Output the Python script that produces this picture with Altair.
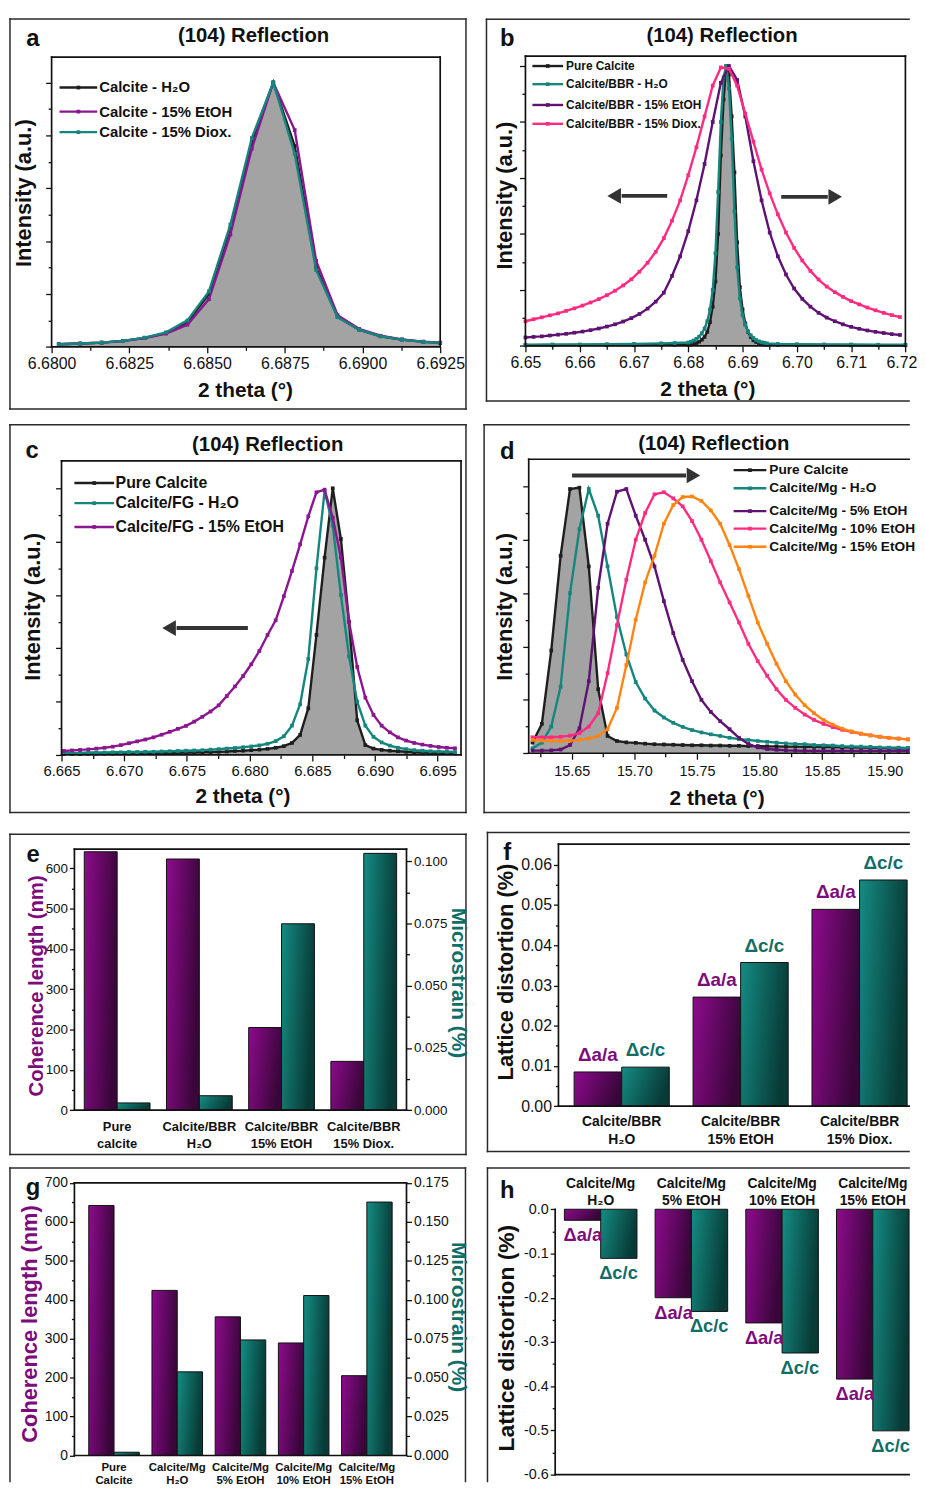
import altair as alt
import numpy as np
import pandas as pd

FONT = "Liberation Sans"
INK = "#111111"
GRAY = "#a3a3a3"
C_BLACK = "#1e1e1e"
C_TEAL = "#15867e"
C_PURPLE = "#8a1690"
C_DPURPLE = "#5e1272"
C_PINK = "#ff2b80"
C_ORANGE = "#ff8412"
T_PURPLE = "#7c0b7c"
T_TEAL = "#0f6e68"
ARROW = "#333333"

# ---------------- panel a ----------------
A_X = [6.68023, 6.68092, 6.68161, 6.68230, 6.68299, 6.68368, 6.68437, 6.68506, 6.68575, 6.68644,
       6.68713, 6.68782, 6.68851, 6.68920, 6.68989, 6.69058, 6.69127, 6.69196, 6.69265]
A_H2O = [0.010, 0.0125, 0.016, 0.0225, 0.034, 0.052, 0.094, 0.200, 0.450, 0.775,
         1.000, 0.760, 0.300, 0.113, 0.065, 0.040, 0.0275, 0.019, 0.015]
A_ETOH = [0.010, 0.0125, 0.016, 0.022, 0.033, 0.050, 0.084, 0.180, 0.425, 0.750,
          1.000, 0.820, 0.325, 0.120, 0.068, 0.042, 0.028, 0.020, 0.016]
A_DIOX = [0.010, 0.0125, 0.016, 0.0225, 0.035, 0.055, 0.100, 0.210, 0.4625, 0.790,
          1.000, 0.730, 0.290, 0.112, 0.065, 0.040, 0.0275, 0.019, 0.015]

# ---------------- panel b ----------------
B_X = np.round(6.6500 + 0.0015 * np.arange(47), 4).tolist()
B_ETOH = [0.030, 0.032, 0.034, 0.037, 0.040, 0.043, 0.047, 0.051, 0.056, 0.062, 0.069, 0.077,
          0.087, 0.099, 0.114, 0.133, 0.158, 0.19, 0.25, 0.32, 0.41, 0.52, 0.65, 0.80, 0.94,
          1.0, 0.95, 0.82, 0.66, 0.52, 0.405, 0.32, 0.255, 0.205, 0.168, 0.140, 0.118, 0.101,
          0.088, 0.077, 0.068, 0.061, 0.055, 0.050, 0.046, 0.042, 0.039]
B_DIOX = [0.088, 0.095, 0.102, 0.109, 0.116, 0.125, 0.134, 0.144, 0.155, 0.167,
          0.181, 0.197, 0.216, 0.238, 0.265, 0.297, 0.336, 0.385, 0.447, 0.52,
          0.61, 0.71, 0.82, 0.93, 0.995, 0.99, 0.93, 0.83, 0.73, 0.63,
          0.545, 0.47, 0.405, 0.35, 0.305, 0.268, 0.237, 0.212, 0.192, 0.175,
          0.160, 0.148, 0.137, 0.127, 0.118, 0.110, 0.103]
B_NX = [6.650, 6.655, 6.660, 6.665, 6.670, 6.675, 6.6775,
        6.6800, 6.6805, 6.6810, 6.6815, 6.6820, 6.6825, 6.6830, 6.6835, 6.6840, 6.6845,
        6.6850, 6.6855, 6.6860, 6.6865, 6.6870, 6.6875, 6.6880, 6.6885, 6.6890, 6.6895,
        6.6900, 6.6905, 6.6910, 6.6915, 6.6920, 6.6925, 6.6930, 6.6935, 6.6940, 6.6945,
        6.6965, 6.700, 6.705, 6.710, 6.715, 6.720]
B_PURE = [0.002, 0.002, 0.003, 0.003, 0.003, 0.004, 0.004,
          0.004, 0.005, 0.007, 0.010, 0.015, 0.022, 0.032, 0.050, 0.085, 0.14,
          0.23, 0.40, 0.68, 0.88, 1.0, 0.97, 0.82, 0.62, 0.37, 0.21,
          0.13, 0.08, 0.05, 0.032, 0.02, 0.014, 0.010, 0.007, 0.005, 0.004,
          0.004, 0.003, 0.003, 0.002, 0.002, 0.002]
B_H2O = [0.004, 0.005, 0.005, 0.006, 0.007, 0.009, 0.010,
         0.012, 0.015, 0.019, 0.025, 0.033, 0.045, 0.062, 0.088, 0.13, 0.20,
         0.33, 0.55, 0.80, 0.96, 1.0, 0.92, 0.74, 0.48, 0.28, 0.17,
         0.11, 0.075, 0.052, 0.038, 0.028, 0.021, 0.016, 0.013, 0.011, 0.009,
         0.007, 0.006, 0.005, 0.005, 0.004, 0.004]

# ---------------- panel c ----------------
C_X = np.round(6.66518 + 0.00065 * np.arange(49), 5).tolist()
C_PURE = [0.004, 0.004, 0.004, 0.005, 0.005, 0.005, 0.005, 0.006, 0.006, 0.006, 0.007,
          0.007, 0.007, 0.008, 0.008, 0.009, 0.009, 0.010, 0.011, 0.012, 0.013,
          0.015, 0.016, 0.018, 0.020, 0.023, 0.027, 0.033, 0.045, 0.075, 0.175,
          0.45, 0.74, 1.0, 0.81, 0.50, 0.13, 0.037, 0.024, 0.019, 0.016,
          0.014, 0.012, 0.010, 0.009, 0.008, 0.007, 0.007, 0.006]
C_H2O = [0.008, 0.008, 0.008, 0.009, 0.009, 0.009, 0.010, 0.010, 0.011, 0.011, 0.012,
         0.012, 0.013, 0.014, 0.015, 0.016, 0.017, 0.018, 0.020, 0.022, 0.024,
         0.026, 0.029, 0.032, 0.036, 0.042, 0.052, 0.070, 0.11, 0.19, 0.36,
         0.70, 0.99, 0.86, 0.60, 0.37, 0.20, 0.11, 0.068, 0.047, 0.035,
         0.027, 0.022, 0.018, 0.016, 0.014, 0.013, 0.012, 0.011]
C_ETOH = [0.015, 0.017, 0.019, 0.021, 0.024, 0.027, 0.031, 0.037, 0.044, 0.051,
          0.058, 0.066, 0.076, 0.087, 0.098, 0.109, 0.125, 0.143, 0.163, 0.186,
          0.221, 0.257, 0.296, 0.34, 0.39, 0.45, 0.505, 0.595, 0.69, 0.79,
          0.895, 0.985, 0.995, 0.89, 0.74, 0.50, 0.33, 0.215, 0.15, 0.11,
          0.085, 0.066, 0.054, 0.045, 0.039, 0.034, 0.030, 0.027, 0.025]

# ---------------- panel d ----------------
D_X = np.round(15.6186 + 0.0075 * np.arange(41), 4).tolist()
D_PURE = [0.040, 0.11, 0.385, 0.74, 0.99, 0.995, 0.70, 0.24, 0.065, 0.046, 0.041, 0.039, 0.036,
          0.034, 0.033, 0.032, 0.031, 0.030, 0.030, 0.029, 0.029, 0.028, 0.028, 0.027, 0.027, 0.026, 0.026,
          0.025, 0.025, 0.024, 0.024, 0.023, 0.023, 0.022, 0.022, 0.021, 0.021, 0.020, 0.020, 0.019, 0.019]
D_H2O = [0.019, 0.040, 0.10, 0.25, 0.60, 0.84, 0.99, 0.89, 0.70, 0.51,
         0.37, 0.267, 0.205, 0.16, 0.134, 0.114, 0.099, 0.087, 0.078, 0.071,
         0.065, 0.058, 0.053, 0.050, 0.046, 0.043, 0.040, 0.037, 0.035, 0.034,
         0.031, 0.030, 0.029, 0.027, 0.026, 0.025, 0.024, 0.022, 0.021, 0.021, 0.020]
D_5 = [0.010, 0.010, 0.011, 0.014, 0.031, 0.093, 0.27, 0.62, 0.86, 0.98,
       0.99, 0.89, 0.80, 0.70, 0.57, 0.45, 0.35, 0.27, 0.20, 0.155,
       0.12, 0.09, 0.058, 0.035, 0.022, 0.016, 0.013, 0.011, 0.010,
       0.009, 0.009, 0.009, 0.009, 0.009, 0.009, 0.009, 0.009, 0.009, 0.009, 0.009, 0.009]
D_10 = [0.060, 0.060, 0.060, 0.062, 0.066, 0.075, 0.10, 0.15, 0.30, 0.48,
        0.65, 0.80, 0.90, 0.97, 0.978, 0.955, 0.925, 0.87, 0.80, 0.72,
        0.64, 0.565, 0.49, 0.41, 0.345, 0.29, 0.24, 0.20, 0.17, 0.145,
        0.125, 0.11, 0.098, 0.088, 0.08, 0.073, 0.067, 0.062, 0.058, 0.055, 0.052]
D_15 = [0.050, 0.048, 0.047, 0.046, 0.047, 0.050, 0.055, 0.065, 0.09, 0.17,
        0.33, 0.50, 0.64, 0.74, 0.86, 0.93, 0.96, 0.962, 0.945, 0.91,
        0.86, 0.78, 0.69, 0.59, 0.49, 0.41, 0.335, 0.27, 0.22, 0.18,
        0.15, 0.125, 0.107, 0.092, 0.082, 0.074, 0.067, 0.062, 0.058, 0.055, 0.052]

# ---------------- bar panels ----------------
E_CATS = ["Pure|calcite", "Calcite/BBR|H₂O", "Calcite/BBR|15% EtOH", "Calcite/BBR|15% Diox."]
E_COH = [641, 623, 205, 121]
E_STRAIN = [0.0029, 0.0058, 0.0749, 0.1032]

F_CATS = ["Calcite/BBR|H₂O", "Calcite/BBR|15% EtOH", "Calcite/BBR|15% Diox."]
F_DA = [0.0085, 0.0271, 0.0489]
F_DC = [0.0097, 0.0357, 0.0562]

G_CATS = ["Pure|Calcite", "Calcite/Mg|H₂O", "Calcite/Mg|5% EtOH", "Calcite/Mg|10% EtOH", "Calcite/Mg|15% EtOH"]
G_COH = [642, 424, 356, 289, 205]
G_STRAIN = [0.0021, 0.0537, 0.0742, 0.1027, 0.1627]

H_CATS = ["Calcite/Mg|H₂O", "Calcite/Mg|5% EtOH", "Calcite/Mg|10% EtOH", "Calcite/Mg|15% EtOH"]
H_DA = [-0.025, -0.200, -0.257, -0.384]
H_DC = [-0.111, -0.231, -0.325, -0.501]

INT_TICKS = np.round(np.arange(0, 1.05, 0.1), 1).tolist()

# ---------------- layout ----------------
COL_X = [8, 482]
COL_W = [474, 435]
ROW_Y = [8, 414, 826, 1164]
ROW_H = [406, 412, 338, 324]

PURPLE_GRAD = alt.Gradient(gradient="linear",
                           stops=[alt.GradientStop(color="#8e0b8e", offset=0),
                                  alt.GradientStop(color="#3a063a", offset=1)],
                           x1=0, x2=1, y1=0, y2=0.3)
TEAL_GRAD = alt.Gradient(gradient="linear",
                         stops=[alt.GradientStop(color="#148d84", offset=0),
                                alt.GradientStop(color="#083a36", offset=1)],
                         x1=0, x2=1, y1=0, y2=0.3)


def px_text(ox, oy, items, size, weight="bold", color=INK, angle=0, align="center", baseline="middle"):
    df = pd.DataFrame({"x": [it[0] - ox for it in items],
                       "y": [it[1] - oy for it in items],
                       "t": [it[2] for it in items]})
    return alt.Chart(df).mark_text(font=FONT, fontSize=size, fontWeight=weight, color=color,
                                   angle=angle, align=align, baseline=baseline).encode(
        x=alt.X("x:Q", scale=None, axis=None),
        y=alt.Y("y:Q", scale=None, axis=None),
        text="t:N")


def px_rules(ox, oy, segs, color=INK, width=1.6, cap="square"):
    df = pd.DataFrame({"x": [s[0] - ox for s in segs], "y": [s[1] - oy for s in segs],
                       "x2": [s[2] - ox for s in segs], "y2": [s[3] - oy for s in segs]})
    return alt.Chart(df).mark_rule(color=color, strokeWidth=width, strokeCap=cap).encode(
        x=alt.X("x:Q", scale=None, axis=None), y=alt.Y("y:Q", scale=None, axis=None),
        x2="x2:Q", y2="y2:Q")


def px_marks(ox, oy, pts, color, shape, size):
    df = pd.DataFrame({"x": [p[0] - ox for p in pts], "y": [p[1] - oy for p in pts]})
    return alt.Chart(df).mark_point(shape=shape, size=size, filled=True, color=color,
                                    opacity=1, strokeWidth=0).encode(
        x=alt.X("x:Q", scale=None, axis=None), y=alt.Y("y:Q", scale=None, axis=None))


def box(x0, y0, x1, y1):
    return [(x0, y0, x1, y0), (x1, y0, x1, y1), (x0, y1, x1, y1), (x0, y0, x0, y1)]


def legend_layers(ox, oy, x0, x1, tx, rows, size):
    out = []
    for (y, colr, lab) in rows:
        out.append(px_rules(ox, oy, [(x0, y, x1, y)], colr, 2.4, "butt"))
        out.append(px_marks(ox, oy, [((x0 + x1) / 2, y)], colr, "square", 14))
    out.append(px_text(ox, oy, [(tx, r[0], r[2]) for r in rows], size, align="left"))
    return out


def arrow_layers(ox, oy, x_tail, x_head, y, direction):
    L = 15
    base = x_head + L if direction == "left" else x_head - L
    return [px_rules(ox, oy, [(x_tail, y, base, y)], ARROW, 4, "butt"),
            px_marks(ox, oy, [((x_head + base) / 2, y)], ARROW, "triangle-" + direction, 250)]


def cond(test, major, minor):
    return {"condition": {"test": test, "value": major}, "value": minor}


def base_axis(**kw):
    d = dict(title=None, grid=False, domain=False, tickColor=INK, tickWidth=1.3,
             labelFont=FONT, labelColor=INK, labelOverlap=False, labelBound=False)
    d.update(kw)
    return alt.Axis(**d)


def series_layers(xs, ys, xax, yax, x, y, colr, msize=14, sw=2.4):
    df = pd.DataFrame({"x": x, "y": y})
    enc = dict(x=alt.X("x:Q", scale=xs, axis=xax), y=alt.Y("y:Q", scale=ys, axis=yax))
    return [alt.Chart(df).mark_line(color=colr, strokeWidth=sw).encode(**enc),
            alt.Chart(df).mark_point(shape="square", filled=True, size=msize, color=colr,
                                     opacity=1, strokeWidth=0).encode(**enc)]


def line_panel(col, row, plot, xdom, ydom, xvals, xtest, xfmt, xlab_size, series, area,
               frame, extras, xaxis_extra=None):
    ox, oy = COL_X[col], ROW_Y[row]
    W, H = COL_W[col], ROW_H[row]
    X0, X1, Y0, Y1 = plot
    xs = alt.Scale(domain=xdom, range=[X0 - ox, X1 - ox], nice=False, zero=False, clamp=True)
    ys = alt.Scale(domain=ydom, range=[Y1 - oy, Y0 - oy], nice=False, zero=False)
    kw = dict(orient="bottom", offset=(Y1 - oy) - H, values=xvals, tickSize=cond(xtest, 6, 3.5),
              labelExpr=f"({xtest}) ? format(datum.value, '{xfmt}') : ''",
              labelFontSize=xlab_size, labelPadding=3, labelFlush=False)
    if xaxis_extra:
        kw.update(xaxis_extra)
    xax = base_axis(**kw)
    yax = base_axis(orient="left", offset=-(X0 - ox), values=INT_TICKS,
                    tickSize=cond("round(datum.value*10) % 2 == 0", 6, 3.5), labels=False)
    layers = []
    if area is not None:
        dfa = pd.DataFrame({"x": area[0], "y": area[1]})
        layers.append(alt.Chart(dfa).mark_area(color=GRAY, opacity=1).encode(
            x=alt.X("x:Q", scale=xs, axis=xax), y=alt.Y("y:Q", scale=ys, axis=yax)))
    for sx, sy, colr in series:
        layers += series_layers(xs, ys, xax, yax, sx, sy, colr)
    layers.append(px_rules(ox, oy, frame, INK, 1.7))
    layers += extras(ox, oy)
    return alt.layer(*layers).properties(width=W, height=H)


def common_titles(ox, oy, title_xy, letter_xy, letter, ytitle_xy, xtitle_xy):
    return [
        px_text(ox, oy, [(title_xy[0], title_xy[1], "(104) Reflection")], 20.5),
        px_text(ox, oy, [(letter_xy[0], letter_xy[1], letter)], 24, baseline="alphabetic"),
        px_text(ox, oy, [(ytitle_xy[0], ytitle_xy[1], "Intensity (a.u.)")], 22, angle=270),
        px_text(ox, oy, [(xtitle_xy[0], xtitle_xy[1], "2 theta (°)")], 21),
    ]


# ---------------- panel a ----------------
def extras_a(ox, oy):
    out = [px_rules(ox, oy, box(10, 12.5, 470, 406), "#2a2a2a", 1.5)]
    out += common_titles(ox, oy, (255.8, 30), (33, 39.3), "a", (24, 188.3), (247.5, 388.3))
    out += legend_layers(ox, oy, 60, 98, 100,
                         [(81.7, C_BLACK, "Calcite - H₂O"),
                          (106, C_PURPLE, "Calcite - 15% EtOH"),
                          (126.7, C_TEAL, "Calcite - 15% Diox.")], 15)
    return out


pa = line_panel(0, 0, (52, 444, 51, 343.3), [6.68, 6.6925], [0, 1.096],
                np.round(6.68 + 0.00125 * np.arange(11), 5).tolist(),
                "round(datum.value*800) % 2 == 0", ".4f", 16,
                [(A_X, A_H2O, C_BLACK), (A_X, A_ETOH, C_PURPLE), (A_X, A_DIOX, C_TEAL)],
                (A_X, A_H2O), box(52, 51, 444, 343.3), extras_a)


# ---------------- panel b ----------------
def extras_b(ox, oy):
    out = [px_rules(ox, oy, [(490.7, 12.7, 490.7, 398), (490.7, 12.7, 917, 12.7),
                             (490.7, 398, 917, 398)], "#2a2a2a", 1.5)]
    out += common_titles(ox, oy, (728.3, 30), (511.7, 39.3), "b", (509, 190.7), (714, 386.7))
    out += legend_layers(ox, oy, 537, 568, 571,
                         [(60, C_BLACK, "Pure Calcite"),
                          (78.3, C_TEAL, "Calcite/BBR - H₂O"),
                          (99.3, C_DPURPLE, "Calcite/BBR - 15% EtOH"),
                          (118.3, C_PINK, "Calcite/BBR - 15% Diox.")], 12)
    out += arrow_layers(ox, oy, 673, 612, 191, "left")
    out += arrow_layers(ox, oy, 788, 850, 192, "right")
    return out


pb = line_panel(1, 0, (530, 913.3, 50, 342.3), [6.65, 6.72], [0, 1.0354],
                np.round(6.65 + 0.005 * np.arange(15), 3).tolist(),
                "round(datum.value*200) % 2 == 0", ".2f", 16,
                [(B_NX, B_PURE, C_BLACK), (B_NX, B_H2O, C_TEAL),
                 (B_X, B_ETOH, C_DPURPLE), (B_X, B_DIOX, C_PINK)],
                (B_NX, B_PURE), box(530, 50, 913.3, 342.3), extras_b,
                xaxis_extra=dict(labelOffset=cond("datum.value > 6.7199", -4, 0)))


# ---------------- panel c ----------------
def extras_c(ox, oy):
    out = [px_rules(ox, oy, box(10, 422, 470, 813), "#2a2a2a", 1.5)]
    out += common_titles(ox, oy, (270, 442.3), (32.3, 455), "c", (33.3, 605.7), (245, 797.3))
    out += legend_layers(ox, oy, 75, 115, 116.5,
                         [(480.7, C_BLACK, "Pure Calcite"),
                          (501, C_TEAL, "Calcite/FG - H₂O"),
                          (525, C_PURPLE, "Calcite/FG - 15% EtOH")], 16)
    out += arrow_layers(ox, oy, 250, 163, 627, "left")
    return out


pc = line_panel(0, 1, (62, 465, 458.3, 755), [6.665, 6.69686], [0, 1.103],
                np.round(6.665 + 0.0025 * np.arange(13), 4).tolist(),
                "round(datum.value*400) % 2 == 0", ".3f", 15,
                [(C_X, C_PURE, C_BLACK), (C_X, C_H2O, C_TEAL), (C_X, C_ETOH, C_PURPLE)],
                (C_X, C_PURE), box(62, 458.3, 465, 755), extras_c)


# ---------------- panel d ----------------
def extras_d(ox, oy):
    out = [px_rules(ox, oy, [(488.3, 422, 488.3, 813), (488.3, 422, 917, 422),
                             (488.3, 813, 917, 813)], "#2a2a2a", 1.5)]
    out += common_titles(ox, oy, (720, 441.7), (511.7, 456.7), "d", (509, 605.7), (723.3, 799))
    out += legend_layers(ox, oy, 740, 773, 776,
                         [(467.7, C_BLACK, "Pure Calcite"),
                          (486, C_TEAL, "Calcite/Mg - H₂O"),
                          (509, C_DPURPLE, "Calcite/Mg - 5% EtOH"),
                          (526.7, C_PINK, "Calcite/Mg - 10% EtOH"),
                          (545, C_ORANGE, "Calcite/Mg - 15% EtOH")], 13.8)
    out += arrow_layers(ox, oy, 577, 707, 473, "right")
    return out


pd_ = line_panel(1, 1, (533.3, 917, 456.7, 753.3), [15.6156, 15.9195], [0, 1.1014],
                 np.round(15.625 + 0.025 * np.arange(12), 3).tolist(),
                 "round(datum.value*40) % 2 == 0", ".2f", 14.5,
                 [(D_X, D_PURE, C_BLACK), (D_X, D_H2O, C_TEAL), (D_X, D_5, C_DPURPLE),
                  (D_X, D_10, C_PINK), (D_X, D_15, C_ORANGE)],
                 (D_X, D_PURE),
                 [(533.3, 456.7, 917, 456.7), (533.3, 456.7, 533.3, 753.3), (533.3, 753.3, 917, 753.3)],
                 extras_d, xaxis_extra=dict(labelPadding=5))


# ---------------- bar helpers ----------------
def cat_axis(orient, offset, size, lh, pad):
    return alt.Axis(orient=orient, offset=offset, ticks=False, domain=False, title=None, grid=False,
                    labelExpr="split(datum.label, '|')", labelAngle=0, labelFont=FONT,
                    labelFontSize=size, labelFontWeight="bold", labelLineHeight=lh,
                    labelPadding=pad, labelColor=INK, labelOverlap=False, labelBound=False)


def band_width(r0, r1, n, pi, po):
    step = (r1 - r0) / (n - pi + 2 * po)
    return step * (1 - pi)


def offs_scale(bw):
    return alt.Scale(domain=["a", "c"], range=[0, bw], paddingInner=0, paddingOuter=0)


def bars(cats, vals, key, grad, xs, offs, ys, xax, yax):
    df = pd.DataFrame({"cat": cats, "v": vals, "s": [key] * len(cats)})
    return alt.Chart(df).mark_bar(color=grad, stroke=INK, strokeWidth=1).encode(
        x=alt.X("cat:N", scale=xs, sort=cats, axis=xax),
        xOffset=alt.XOffset("s:N", scale=offs),
        y=alt.Y("v:Q", scale=ys, axis=yax))


def delta_text(cats, vals, xs, ys, xax, yax, label, colr, dx, dy, size):
    df = pd.DataFrame({"cat": cats, "v": vals})
    return alt.Chart(df).mark_text(font=FONT, fontSize=size, fontWeight="bold", color=colr,
                                   dx=dx, dy=dy, baseline="middle").encode(
        x=alt.X("cat:N", scale=xs, sort=cats, axis=xax),
        y=alt.Y("v:Q", scale=ys, axis=yax),
        text=alt.value(label))


# ---------------- panel e ----------------
ox, oy, W, H = COL_X[0], ROW_Y[2], COL_W[0], ROW_H[2]
X0, X1, Y0, Y1 = 75, 410, 850, 1113.3
ex = alt.Scale(domain=E_CATS, range=[X0 - ox, X1 - ox], paddingInner=0.2, paddingOuter=0.12)
eoff = offs_scale(band_width(X0, X1, 4, 0.2, 0.12))
ey1 = alt.Scale(domain=[0, 647.5], range=[Y1 - oy, Y0 - oy], nice=False, zero=True)
ey2 = alt.Scale(domain=[0, 0.1049], range=[Y1 - oy, Y0 - oy], nice=False, zero=True)
e_cat = cat_axis("bottom", (Y1 - oy) - H, 13, 17, 11)
e_left = base_axis(orient="left", offset=-(X0 - ox), values=list(range(0, 601, 50)),
                   tickSize=cond("round(datum.value/50) % 2 == 0", 5, 3),
                   labelExpr="round(datum.value/50) % 2 == 0 ? format(datum.value, 'd') : ''",
                   labelFontSize=13.5, labelPadding=2)
e_right = base_axis(orient="right", offset=(X1 - ox) - W,
                    values=np.round(np.arange(0, 0.1001, 0.0125), 4).tolist(),
                    tickSize=cond("round(datum.value*80) % 2 == 0", 5, 3),
                    labelExpr="round(datum.value*80) % 2 == 0 ? format(datum.value, '.3f') : ''",
                    labelFontSize=13.5, labelPadding=2)
pe = alt.layer(
    bars(E_CATS, E_COH, "a", PURPLE_GRAD, ex, eoff, ey1, e_cat, e_left),
    bars(E_CATS, E_STRAIN, "c", TEAL_GRAD, ex, eoff, ey2, e_cat, e_right),
    px_rules(ox, oy, box(X0, Y0, X1, Y1), INK, 1.7),
    px_rules(ox, oy, box(10, 835, 470, 1158), "#2a2a2a", 1.5),
    px_text(ox, oy, [(33.3, 863.3, "e")], 24, baseline="alphabetic"),
    px_text(ox, oy, [(37.5, 988, "Coherence length (nm)")], 20.5, color=T_PURPLE, angle=270),
    px_text(ox, oy, [(461.7, 985, "Microstrain (%)")], 21, color=T_TEAL, angle=90),
).resolve_scale(y="independent").properties(width=W, height=H)

# ---------------- panel f ----------------
ox, oy, W, H = COL_X[1], ROW_Y[2], COL_W[1], ROW_H[2]
X0, X1, Y0, Y1 = 563.3, 917, 845, 1109.3
fx = alt.Scale(domain=F_CATS, range=[X0 - ox, X1 - ox], paddingInner=0.2, paddingOuter=0.074, align=0.89)
foff = offs_scale(band_width(X0, X1, 3, 0.2, 0.074))
fy = alt.Scale(domain=[0, 0.0651], range=[Y1 - oy, Y0 - oy], nice=False, zero=True)
f_cat = cat_axis("bottom", (Y1 - oy) - H, 14, 18, 9)
f_left = base_axis(orient="left", offset=-(X0 - ox),
                   values=np.round(np.arange(0, 0.0601, 0.005), 3).tolist(),
                   tickSize=cond("round(datum.value*200) % 2 == 0", 5, 3),
                   labelExpr="round(datum.value*200) % 2 == 0 ? format(datum.value, '.2f') : ''",
                   labelFontSize=16, labelPadding=2)
pf = alt.layer(
    bars(F_CATS, F_DA, "a", PURPLE_GRAD, fx, foff, fy, f_cat, f_left),
    bars(F_CATS, F_DC, "c", TEAL_GRAD, fx, foff, fy, f_cat, f_left),
    delta_text(F_CATS, F_DA, fx, fy, f_cat, f_left, "Δa/a", T_PURPLE, -24, -17, 19),
    delta_text(F_CATS, F_DC, fx, fy, f_cat, f_left, "Δc/c", T_TEAL, 24, -17, 19),
    px_rules(ox, oy, [(X0, Y0, 917, Y0), (X0, Y0, X0, Y1), (X0, Y1, 917, Y1)], INK, 1.7),
    px_rules(ox, oy, [(491.7, 833.3, 491.7, 1155), (491.7, 833.3, 917, 833.3),
                      (491.7, 1155, 917, 1155)], "#2a2a2a", 1.5),
    px_text(ox, oy, [(511.7, 860.5, "f")], 24, baseline="alphabetic"),
    px_text(ox, oy, [(510.7, 974, "Lattice distortion (%)")], 22, angle=270),
).properties(width=W, height=H)

# ---------------- panel g ----------------
ox, oy, W, H = COL_X[0], ROW_Y[3], COL_W[0], ROW_H[3]
X0, X1, Y0, Y1 = 75, 410, 1186.7, 1461.7
gx = alt.Scale(domain=G_CATS, range=[X0 - ox, X1 - ox], paddingInner=0.2, paddingOuter=0.227)
goff = offs_scale(band_width(X0, X1, 5, 0.2, 0.227))
gy1 = alt.Scale(domain=[0, 700], range=[Y1 - oy, Y0 - oy], nice=False, zero=True)
gy2 = alt.Scale(domain=[0, 0.175], range=[Y1 - oy, Y0 - oy], nice=False, zero=True)
g_cat = cat_axis("bottom", (Y1 - oy) - H, 11.5, 13, 6)
g_left = base_axis(orient="left", offset=-(X0 - ox), values=list(range(0, 701, 50)),
                   tickSize=cond("round(datum.value/50) % 2 == 0", 5, 3),
                   labelExpr="round(datum.value/50) % 2 == 0 ? format(datum.value, 'd') : ''",
                   labelFontSize=14, labelPadding=2)
g_right = base_axis(orient="right", offset=(X1 - ox) - W,
                    values=np.round(np.arange(0, 0.1751, 0.0125), 4).tolist(),
                    tickSize=cond("round(datum.value*80) % 2 == 0", 5, 3),
                    labelExpr="round(datum.value*80) % 2 == 0 ? format(datum.value, '.3f') : ''",
                    labelFontSize=14, labelPadding=2)
pg = alt.layer(
    bars(G_CATS, G_COH, "a", PURPLE_GRAD, gx, goff, gy1, g_cat, g_left),
    bars(G_CATS, G_STRAIN, "c", TEAL_GRAD, gx, goff, gy2, g_cat, g_right),
    px_rules(ox, oy, box(X0, Y0, X1, Y1), INK, 1.7),
    px_rules(ox, oy, [(10, 1171.7, 10, 1488), (10, 1171.7, 469.5, 1171.7),
                      (469.5, 1171.7, 469.5, 1488)], "#2a2a2a", 1.5),
    px_text(ox, oy, [(33.3, 1199, "g")], 24, baseline="alphabetic"),
    px_text(ox, oy, [(30, 1329, "Coherence length (nm)")], 22, color=T_PURPLE, angle=270),
    px_text(ox, oy, [(461.7, 1322, "Microstrain (%)")], 21, color=T_TEAL, angle=90),
).resolve_scale(y="independent").properties(width=W, height=H)

# ---------------- panel h ----------------
ox, oy, W, H = COL_X[1], ROW_Y[3], COL_W[1], ROW_H[3]
X0, X1, Y0, Y1 = 560, 917, 1213.3, 1481
hx = alt.Scale(domain=H_CATS, range=[X0 - ox, X1 - ox], paddingInner=0.2, paddingOuter=0.0508, align=1.0)
hoff = offs_scale(band_width(X0, X1, 4, 0.2, 0.0508))
hy = alt.Scale(domain=[-0.6, 0], range=[Y1 - oy, Y0 - oy], nice=False, zero=True)
h_cat = cat_axis("top", -(Y0 - oy), 14, 17, 19)
h_left = base_axis(orient="left", offset=-(X0 - ox),
                   values=np.round(np.arange(0, -0.601, -0.05), 2).tolist(),
                   tickSize=cond("round(abs(datum.value)*20) % 2 == 0", 5, 3),
                   labelExpr="round(abs(datum.value)*20) % 2 == 0 ? ((datum.value < -0.0001 ? '-' : '') + format(abs(datum.value), '.1f')) : ''",
                   labelFontSize=14.5, labelPadding=2)
ph = alt.layer(
    bars(H_CATS, H_DA, "a", PURPLE_GRAD, hx, hoff, hy, h_cat, h_left),
    bars(H_CATS, H_DC, "c", TEAL_GRAD, hx, hoff, hy, h_cat, h_left),
    delta_text(H_CATS, H_DA, hx, hy, h_cat, h_left, "Δa/a", T_PURPLE, -18, 15, 18.5),
    delta_text(H_CATS, H_DC, hx, hy, h_cat, h_left, "Δc/c", T_TEAL, 18, 15, 18.5),
    px_rules(ox, oy, [(X0, Y0, X0, Y1), (X0, Y1, 917, Y1)], INK, 1.7),
    px_rules(ox, oy, [(491.7, 1171.7, 491.7, 1488), (491.7, 1171.7, 917, 1171.7)], "#2a2a2a", 1.5),
    px_text(ox, oy, [(511.7, 1201.7, "h")], 24, baseline="alphabetic"),
    px_text(ox, oy, [(511.7, 1343.3, "Lattice distortion (%)")], 23, angle=270),
).properties(width=W, height=H)

chart = alt.concat(pa, pb, pc, pd_, pe, pf, pg, ph, columns=2, spacing=0,
                   bounds="flush", align="each", padding=0)
chart = chart.resolve_scale(xOffset="independent")
chart = chart.configure(font=FONT).configure_view(stroke=None)
chart.save("out.html", embed_options={"renderer": "svg", "actions": False})
